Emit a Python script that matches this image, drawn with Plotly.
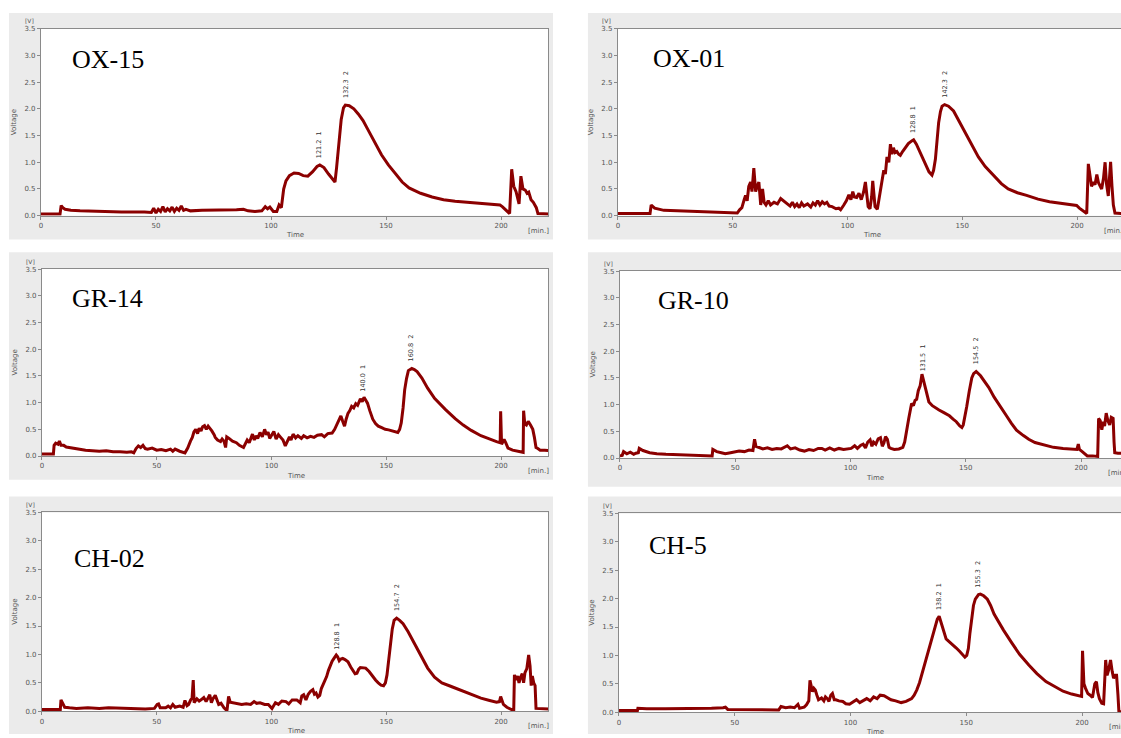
import numpy as np
import plotly.graph_objects as go

# ---------------- data: (time [min], voltage [V]) ----------------
ox15 = [(0, 0.03), (8.3, 0.03), (8.8, 0.19), (9.5, 0.15), (10.5, 0.12), (13, 0.1), (17, 0.09), (25, 0.08), (35, 0.07),
        (45, 0.07), (48, 0.06), (49, 0.14), (50, 0.05), (51, 0.12), (52, 0.08), (53, 0.17), (54, 0.07), (55, 0.13),
        (56, 0.09), (57, 0.16), (58, 0.08), (59, 0.14), (60, 0.1), (61, 0.18), (62, 0.1), (63, 0.12), (65, 0.09),
        (70, 0.1), (75, 0.1), (80, 0.11), (85, 0.11), (88, 0.12), (90, 0.09), (93, 0.08), (96, 0.09), (97.5, 0.17),
        (98.5, 0.13), (99.5, 0.16), (101, 0.08), (102.5, 0.08), (103.5, 0.2), (104.5, 0.15), (105.5, 0.5),
        (106.5, 0.65), (108, 0.75), (110, 0.8), (112, 0.79), (114, 0.75), (116, 0.74), (118, 0.82), (120, 0.92),
        (121.2, 0.95), (123, 0.9), (125, 0.78), (127, 0.66), (127.8, 0.63), (128.5, 0.9), (129.5, 1.4), (130.5, 1.8),
        (131.5, 2.02), (132.3, 2.07), (134, 2.06), (136, 2.0), (138, 1.9), (140, 1.78), (142, 1.62), (145, 1.38),
        (148, 1.14), (151, 0.95), (154, 0.78), (157, 0.63), (160, 0.52), (165, 0.42), (170, 0.35), (175, 0.3),
        (180, 0.27), (185, 0.25), (190, 0.24), (195, 0.22), (199.5, 0.2), (200.5, 0.17), (202, 0.11), (203.7, 0.04),
        (204.6, 0.87), (205.5, 0.55), (206.5, 0.45), (207.8, 0.22), (208.6, 0.74), (209.5, 0.5), (210.5, 0.48),
        (211.3, 0.42), (212, 0.44), (213, 0.3), (214, 0.25), (215.3, 0.15), (216, 0.04), (221, 0.03)]

ox01 = [(0, 0.04), (14, 0.04), (14.5, 0.2), (16, 0.14), (20, 0.1), (25, 0.09), (30, 0.08), (40, 0.06), (45, 0.05),
        (50, 0.04), (52, 0.05), (53, 0.11), (54, 0.15), (55, 0.3), (55.6, 0.38), (56.3, 0.28), (57, 0.55),
        (57.8, 0.63), (58.4, 0.45), (59.2, 0.89), (60, 0.45), (60.7, 0.55), (61.4, 0.63), (62.2, 0.2), (63, 0.5),
        (63.7, 0.25), (64.5, 0.2), (65.5, 0.28), (66.5, 0.2), (68, 0.25), (69.5, 0.22), (70.9, 0.32), (72, 0.28),
        (73.8, 0.23), (75, 0.18), (76, 0.25), (77, 0.17), (78, 0.22), (79, 0.15), (80, 0.24), (81, 0.18),
        (82.6, 0.22), (84, 0.16), (85, 0.24), (86, 0.2), (87, 0.28), (88, 0.2), (89, 0.26), (90, 0.22), (91, 0.25),
        (92, 0.18), (93.3, 0.17), (95, 0.13), (96.2, 0.14), (97, 0.11), (98.4, 0.2), (99.5, 0.28), (100.6, 0.39),
        (101.5, 0.3), (102.3, 0.45), (103, 0.35), (104, 0.34), (105, 0.42), (106, 0.3), (107, 0.44), (107.8, 0.63),
        (108.5, 0.3), (109, 0.17), (109.8, 0.13), (110.5, 0.35), (111, 0.65), (111.5, 0.4), (112, 0.17), (113, 0.12),
        (113.7, 0.3), (114.3, 0.49), (115, 0.62), (115.8, 0.85), (116.5, 0.78), (117.2, 1.1), (118, 1.0),
        (118.7, 1.34), (119.3, 1.15), (120, 1.27), (120.7, 1.18), (121.5, 1.2), (122.3, 1.15), (123, 1.13),
        (124, 1.2), (125, 1.27), (126.5, 1.35), (128, 1.4), (128.8, 1.42), (130, 1.34), (131, 1.24), (132.5, 1.1),
        (133.9, 0.97), (135.5, 0.82), (136.8, 0.76), (137.5, 0.85), (138.3, 1.06), (139, 1.4), (139.7, 1.74),
        (140.5, 1.95), (141.2, 2.05), (142.3, 2.08), (144, 2.05), (146.2, 1.96), (148, 1.82), (150.6, 1.62),
        (153.5, 1.37), (157, 1.1), (160, 0.92), (163.6, 0.76), (167, 0.6), (170, 0.5), (174, 0.43), (178, 0.38),
        (183, 0.31), (188, 0.26), (192.6, 0.23), (196, 0.21), (199.8, 0.19), (201, 0.14), (203, 0.08), (204.2, 0.04),
        (204.9, 0.97), (205.6, 0.75), (206.3, 0.55), (207.1, 0.63), (207.8, 0.58), (208.6, 0.77), (209.3, 0.62),
        (210, 0.56), (210.7, 0.5), (211.5, 0.7), (212.2, 1.0), (212.8, 0.6), (213.6, 0.37), (214.1, 0.7),
        (214.6, 1.01), (215.2, 0.55), (215.8, 0.2), (216.5, 0.05), (219.5, 0.04)]

gr14 = [(0, 0.04), (5, 0.04), (5.3, 0.2), (6, 0.24), (7, 0.22), (7.6, 0.28), (8.3, 0.2), (9.5, 0.2), (10.6, 0.17),
        (13, 0.15), (16, 0.13), (19, 0.11), (22, 0.1), (25, 0.09), (28, 0.1), (31, 0.08), (34, 0.08), (37, 0.07),
        (39, 0.08), (40, 0.06), (41, 0.14), (42, 0.19), (43, 0.16), (44, 0.2), (45, 0.14), (46, 0.13), (48, 0.15),
        (50, 0.11), (52, 0.12), (54, 0.1), (56, 0.13), (57, 0.09), (58, 0.13), (60, 0.09), (62.3, 0.06),
        (63.5, 0.15), (64.7, 0.28), (65.5, 0.35), (66.2, 0.45), (67, 0.5), (67.8, 0.42), (68.5, 0.52), (69.3, 0.47),
        (70, 0.55), (70.8, 0.57), (71.6, 0.5), (72.4, 0.56), (73.2, 0.52), (74, 0.47), (75, 0.4), (75.5, 0.35),
        (76.5, 0.3), (77.8, 0.27), (78.5, 0.32), (79.3, 0.28), (80, 0.16), (80.5, 0.36), (81.5, 0.33), (83, 0.28),
        (84.7, 0.25), (86, 0.2), (87.8, 0.16), (88.5, 0.22), (89.4, 0.3), (90.3, 0.25), (91, 0.35), (91.7, 0.41),
        (92.5, 0.3), (93.3, 0.38), (94, 0.33), (95, 0.44), (96, 0.36), (97, 0.5), (97.8, 0.4), (98.5, 0.45),
        (99.2, 0.33), (100, 0.38), (101, 0.46), (102, 0.32), (103, 0.4), (104, 0.35), (105, 0.3), (106, 0.19),
        (107, 0.28), (107.8, 0.36), (108.5, 0.3), (109.4, 0.41), (110.5, 0.34), (111.5, 0.38), (113, 0.33),
        (114, 0.38), (115.5, 0.34), (117, 0.37), (118.5, 0.35), (120, 0.39), (121.8, 0.4), (123, 0.36),
        (124.5, 0.42), (126.4, 0.43), (127.5, 0.5), (128.7, 0.62), (129.5, 0.7), (130.2, 0.75), (131, 0.65),
        (131.8, 0.56), (132.5, 0.69), (133.3, 0.8), (134.1, 0.85), (134.9, 0.93), (135.8, 0.9), (136.7, 0.98),
        (137.5, 0.95), (138.7, 1.07), (139.5, 1.02), (140.3, 1.1), (141, 1.05), (141.8, 0.99), (142.8, 0.85),
        (144.1, 0.69), (145.3, 0.61), (146.5, 0.56), (148, 0.53), (149.5, 0.5), (151, 0.49), (152.6, 0.47),
        (154, 0.45), (155, 0.44), (155.8, 0.5), (156.5, 0.62), (157.3, 0.9), (158, 1.24), (158.8, 1.45),
        (159.6, 1.6), (161.1, 1.64), (162.2, 1.62), (163.4, 1.58), (165.5, 1.46), (168, 1.27), (171, 1.08),
        (175.8, 0.87), (180, 0.7), (183.5, 0.58), (187, 0.48), (191.2, 0.38), (195, 0.31), (198, 0.27),
        (199.6, 0.25), (199.8, 0.84), (200.2, 0.22), (200.8, 0.28), (201.3, 0.31), (202, 0.25), (203, 0.15),
        (205, 0.11), (208.5, 0.07), (209.6, 0.07), (209.8, 0.85), (210.3, 0.6), (211, 0.58), (211.8, 0.65),
        (212.8, 0.58), (213.8, 0.5), (214.5, 0.35), (215.2, 0.16), (216, 0.14), (217, 0.11), (219, 0.11),
        (221, 0.1)]

gr10 = [(0, 0.04), (1, 0.05), (1.6, 0.12), (3, 0.08), (4.5, 0.11), (6, 0.07), (6.9, 0.09), (8, 0.1), (8.4, 0.18),
        (10, 0.14), (12.9, 0.1), (16, 0.08), (20, 0.07), (25, 0.06), (30, 0.05), (35, 0.05), (40, 0.04),
        (40.3, 0.16), (42, 0.12), (44, 0.1), (45.7, 0.08), (48, 0.1), (50, 0.12), (51.7, 0.13), (54, 0.12),
        (56, 0.15), (57.7, 0.14), (58.4, 0.35), (59, 0.22), (60, 0.2), (62, 0.17), (64, 0.19), (66, 0.16),
        (68, 0.18), (70, 0.17), (72.6, 0.23), (74, 0.17), (76, 0.19), (78, 0.15), (80, 0.13), (82, 0.16),
        (84, 0.14), (86, 0.18), (87.6, 0.18), (89, 0.15), (91, 0.19), (93, 0.15), (95, 0.18), (97, 0.16),
        (100.3, 0.18), (101.8, 0.23), (103, 0.18), (104.5, 0.24), (105.5, 0.26), (106.5, 0.19), (107.5, 0.3),
        (108.5, 0.34), (109.3, 0.22), (110, 0.3), (111, 0.26), (112, 0.36), (113, 0.38), (113.8, 0.22),
        (114.5, 0.28), (115.2, 0.4), (116, 0.35), (116.7, 0.2), (117.5, 0.18), (119, 0.16), (121, 0.17),
        (122.7, 0.2), (123.5, 0.3), (124.2, 0.5), (125.3, 0.75), (126.5, 1.02), (127.3, 0.98), (128, 1.08),
        (128.7, 1.1), (129.4, 1.26), (130.2, 1.35), (131, 1.57), (131.7, 1.45), (132.4, 1.32), (133.2, 1.15),
        (134, 1.05), (135.5, 0.98), (137, 0.93), (138.4, 0.9), (140.5, 0.85), (142.9, 0.79), (144.5, 0.73),
        (145.9, 0.68), (147.4, 0.6), (148.3, 0.57), (148.9, 0.62), (149.6, 0.75), (150.4, 0.96), (151.5, 1.25),
        (152.6, 1.5), (153.4, 1.58), (154.5, 1.62), (156.4, 1.54), (158.5, 1.42), (160, 1.32), (162.3, 1.14),
        (165, 0.95), (167.5, 0.8), (169.8, 0.65), (172, 0.52), (175, 0.42), (177.3, 0.35), (180, 0.29),
        (184.7, 0.23), (188, 0.2), (192.2, 0.18), (195, 0.17), (198.2, 0.16), (198.8, 0.26), (199.3, 0.16),
        (200.5, 0.12), (202.7, 0.04), (205, 0.04), (207.2, 0.03), (207.6, 0.74), (208.3, 0.7), (209, 0.53),
        (209.6, 0.68), (210.2, 0.6), (210.9, 0.84), (211.6, 0.7), (212.4, 0.62), (213.1, 0.76), (213.9, 0.74),
        (214.3, 0.3), (214.6, 0.1), (216, 0.09), (219, 0.09)]

ch02 = [(0, 0.03), (8, 0.03), (8.3, 0.2), (9, 0.14), (9.9, 0.07), (12, 0.06), (15, 0.05), (20, 0.06), (25, 0.05),
        (29, 0.06), (35, 0.05), (40, 0.05), (45, 0.04), (49, 0.05), (50.2, 0.12), (50.8, 0.13), (51.5, 0.06),
        (53.9, 0.06), (55, 0.09), (56, 0.06), (57, 0.12), (58, 0.07), (60, 0.09), (61.5, 0.07), (62.3, 0.19),
        (63.2, 0.1), (63.9, 0.12), (64.8, 0.2), (65.4, 0.23), (65.9, 0.55), (66.3, 0.15), (67.5, 0.22),
        (68.5, 0.18), (69.3, 0.2), (70.5, 0.24), (71.5, 0.17), (73.1, 0.29), (73.8, 0.15), (74.5, 0.22),
        (75.5, 0.28), (76.2, 0.2), (77, 0.12), (78, 0.14), (79.3, 0.06), (80.6, 0.01), (81.3, 0.26), (82, 0.16),
        (83.2, 0.15), (85, 0.13), (87, 0.12), (89, 0.13), (90.9, 0.12), (92.4, 0.17), (93.5, 0.14), (95, 0.15),
        (97, 0.12), (98.6, 0.12), (100.2, 0.05), (101.7, 0.15), (103, 0.12), (104.5, 0.18), (106.3, 0.17),
        (107.5, 0.13), (109, 0.2), (111, 0.2), (112.5, 0.15), (113.2, 0.27), (114, 0.29), (115, 0.2), (116, 0.3),
        (117, 0.35), (118, 0.38), (118.7, 0.3), (119.4, 0.32), (120.2, 0.25), (121, 0.28), (121.7, 0.4),
        (122.5, 0.47), (123.3, 0.52), (124, 0.61), (124.8, 0.72), (125.6, 0.82), (126.4, 0.88), (127.2, 0.93),
        (128.2, 0.99), (128.8, 0.96), (129.5, 0.89), (130.2, 0.92), (131, 0.93), (132, 0.91), (133.3, 0.87),
        (134.5, 0.78), (135.6, 0.7), (136.4, 0.66), (137.2, 0.67), (138, 0.74), (138.7, 0.77), (140, 0.77),
        (141, 0.76), (142.5, 0.7), (144.1, 0.61), (145.3, 0.55), (146.5, 0.5), (147.7, 0.46), (148.8, 0.45),
        (149.6, 0.5), (150.3, 0.64), (151.1, 0.95), (151.9, 1.28), (152.6, 1.45), (153.4, 1.6), (154.5, 1.64),
        (155.8, 1.6), (157.3, 1.54), (159.5, 1.4), (161.9, 1.22), (164.5, 1.01), (168, 0.76), (171, 0.6),
        (174.2, 0.5), (178, 0.44), (183.5, 0.35), (187, 0.29), (191.2, 0.23), (195, 0.19), (198, 0.16),
        (199.3, 0.17), (199.8, 0.26), (201, 0.12), (202.5, 0.07), (204.5, 0.03), (205.5, 0.03), (205.8, 0.64),
        (206.5, 0.55), (207.2, 0.62), (207.8, 0.5), (208.5, 0.6), (209.2, 0.66), (209.8, 0.5), (210.4, 0.68),
        (211.2, 0.75), (212, 0.99), (212.6, 0.8), (213.1, 0.45), (213.6, 0.62), (214.2, 0.5), (214.8, 0.45),
        (215.2, 0.05), (221, 0.04)]

ch5 = [(0, 0.03), (8, 0.03), (8.2, 0.07), (12, 0.06), (20, 0.06), (28, 0.06), (35, 0.07), (40, 0.07), (45, 0.08),
       (46, 0.09), (47, 0.05), (55, 0.05), (65, 0.04), (69, 0.04), (70, 0.1), (72, 0.08), (74, 0.09), (75.8, 0.08),
       (77.3, 0.14), (78, 0.07), (80, 0.09), (81, 0.13), (82, 0.2), (82.5, 0.56), (83.1, 0.45), (83.6, 0.36),
       (84.2, 0.42), (84.8, 0.39), (85.5, 0.3), (86.2, 0.22), (87.5, 0.25), (88.5, 0.2), (89.2, 0.27), (90, 0.24),
       (90.7, 0.19), (91.5, 0.3), (92.2, 0.33), (93, 0.22), (93.7, 0.22), (95, 0.2), (96.7, 0.19), (98, 0.15),
       (99.6, 0.14), (101, 0.18), (102.6, 0.22), (104, 0.17), (105.6, 0.2), (107, 0.24), (108.5, 0.2), (110, 0.27),
       (111.5, 0.24), (112.8, 0.3), (114.5, 0.29), (116, 0.26), (117.5, 0.22), (119.5, 0.2), (121.9, 0.17),
       (124, 0.19), (126.4, 0.24), (127.5, 0.3), (128.6, 0.39), (129.8, 0.52), (130.9, 0.68), (132, 0.85),
       (133.1, 1.0), (134.2, 1.18), (135.3, 1.35), (136.4, 1.5), (137.5, 1.64), (138.3, 1.69), (139.5, 1.53),
       (140.4, 1.38), (141.3, 1.29), (142.7, 1.24), (144.2, 1.19), (145.7, 1.13), (147.2, 1.07), (148.3, 1.02),
       (149.4, 0.97), (150.2, 1.0), (150.9, 1.12), (151.6, 1.4), (152.4, 1.7), (153.1, 1.88), (153.9, 1.99),
       (155.3, 2.07), (156.1, 2.08), (157.5, 2.05), (159.1, 1.99), (160.5, 1.88), (162, 1.73), (163.6, 1.61),
       (166, 1.45), (169.5, 1.23), (173, 1.02), (177, 0.83), (180.5, 0.68), (184.4, 0.54), (188, 0.45),
       (191.8, 0.37), (195.5, 0.32), (199.8, 0.28), (200.2, 1.08), (200.8, 0.5), (201.5, 0.42), (202.5, 0.33),
       (203.5, 0.3), (204.5, 0.26), (205.5, 0.5), (206.2, 0.54), (206.8, 0.35), (207.5, 0.24), (208.5, 0.16),
       (209.3, 0.15), (210.2, 0.92), (210.8, 0.65), (211.5, 0.75), (212.3, 0.92), (213, 0.72), (213.6, 0.6),
       (214.4, 0.65), (214.9, 0.65), (215.5, 0.3), (215.9, 0.01), (219, 0.01)]

sample_names = ["OX-15", "OX-01", "GR-14", "GR-10", "CH-02", "CH-5"]
peak_times = [[121.2, 132.3], [128.8, 142.3], [140.0, 160.8], [131.5, 154.5], [128.8, 154.7], [138.2, 155.3]]
peak_numbers = ["1", "2"]
y_ticks = [0.0, 0.5, 1.0, 1.5, 2.0, 2.5, 3.0, 3.5]
x_ticks = [0, 50, 100, 150, 200]

series = [ox15, ox01, gr14, gr10, ch02, ch5]

# ---------------- layout geometry (pixels) ----------------
W, H = 1121, 738
# (x of t=0, px per minute, right edge px, top px (3.5), bottom px (0.0))
geom = [
    (39, 2.305, 547, 25, 214),
    (617, 2.30, 1121, 25, 214),
    (40, 2.30, 547, 268, 457),
    (619, 2.31, 1121, 270, 459),
    (40, 2.30, 547, 514, 715),
    (618, 2.32, 1121, 515, 716),
]
boxes = [(7, 552, 9, 238), (587, 1121, 9, 238), (7, 552, 251, 481), (587, 1121, 251, 488),
         (7, 552, 498, 738), (587, 1121, 498, 738)]
name_pos = [(68, 56), (650, 55), (68, 298), (655, 300), (70, 561), (646, 547)]

LINE = "#8b0000"
AX = "#8a8a8a"
TXT = "#555555"
SMALL = "DejaVu Sans"


def fx(px):
    return px / W


def fy(py):
    return 1 - py / H


fig = go.Figure()
shapes = []
annotations = []

for i in range(6):
    x0, sc, xr, yt, yb = geom[i]
    bx0, bx1, by0, by1 = boxes[i]
    n = "" if i == 0 else str(i + 1)
    xmax = (xr - x0) / sc
    ts = [p[0] for p in series[i]]
    vs = [p[1] for p in series[i]]
    # panel grey background + white plot area
    shapes.append(dict(type="rect", xref="paper", yref="paper", x0=fx(bx0), x1=fx(bx1), y0=fy(by1), y1=fy(by0),
                       fillcolor="#ebebeb", line=dict(width=0), layer="below"))
    shapes.append(dict(type="rect", xref="paper", yref="paper", x0=fx(x0), x1=fx(xr), y0=fy(yb), y1=fy(yt),
                       fillcolor="white", line=dict(width=0), layer="below"))

    fig.add_trace(go.Scatter(x=ts, y=vs, mode="lines",
                             line=dict(color=LINE, width=3), xaxis="x" + n, yaxis="y" + n,
                             showlegend=False, hoverinfo="skip"))

    right_panel = xr >= W
    fig.update_layout(**{
        "xaxis" + n: dict(domain=[fx(x0), fx(xr)], range=[0, xmax], anchor="y" + n, tickvals=x_ticks,
                          ticktext=[str(v) for v in x_ticks], showgrid=False, zeroline=False,
                          showline=True, linecolor=AX, linewidth=1, mirror=True,
                          ticks="outside", ticklen=3, tickcolor=AX,
                          tickfont=dict(family=SMALL, size=7, color=TXT)),
        "yaxis" + n: dict(domain=[fy(yb), fy(yt)], range=[0, 3.5], anchor="x" + n, tickvals=y_ticks,
                          ticktext=["%.1f" % v for v in y_ticks], showgrid=False, zeroline=False,
                          showline=True, linecolor=AX, linewidth=1, mirror=not right_panel,
                          ticks="outside", ticklen=3, tickcolor=AX,
                          tickfont=dict(family=SMALL, size=7, color=TXT)),
    })

    virt_right = x0 + 221 * sc
    annotations += [
        dict(text="Voltage", x=fx(x0 - 27), y=fy((yt + yb) / 2), xref="paper", yref="paper", textangle=-90,
             showarrow=False, font=dict(family=SMALL, size=7, color=TXT), xanchor="center", yanchor="middle"),
        dict(text="Time", x=fx((x0 + virt_right) / 2), y=fy(yb + 20), xref="paper", yref="paper",
             showarrow=False, font=dict(family=SMALL, size=7, color=TXT), xanchor="center", yanchor="middle"),
        dict(text="[min.]", x=fx(virt_right - 11), y=fy(yb + 15), xref="paper", yref="paper",
             showarrow=False, font=dict(family=SMALL, size=7, color=TXT), xanchor="center", yanchor="middle"),
        dict(text="[V]", x=fx(x0 - 11), y=fy(yt - 8), xref="paper", yref="paper",
             showarrow=False, font=dict(family=SMALL, size=6, color=TXT), xanchor="center", yanchor="middle"),
        dict(text=sample_names[i], x=fx(name_pos[i][0]), y=fy(name_pos[i][1]), xref="paper", yref="paper",
             showarrow=False, font=dict(family="Liberation Serif", size=26, color="black"),
             xanchor="left", yanchor="middle"),
    ]
    # peak labels, placed just above the trace at the peak time
    for k, pt in enumerate(peak_times[i]):
        pv = float(np.interp(pt, ts, vs))
        annotations.append(dict(text="%.1f\u00a0\u00a0%s" % (pt, peak_numbers[k]), x=pt, y=pv,
                                xref="x" + n, yref="y" + n, showarrow=False, textangle=-90,
                                font=dict(family=SMALL, size=6.5, color="#333333"),
                                xanchor="center", yanchor="bottom", yshift=5))

fig.update_layout(width=W, height=H, autosize=False, margin=dict(l=0, r=0, t=0, b=0),
                  paper_bgcolor="white", plot_bgcolor="white", shapes=shapes, annotations=annotations,
                  showlegend=False)

fig.write_html("out.html", config={"displayModeBar": False},
               post_script="document.body.style.margin='0px';")
